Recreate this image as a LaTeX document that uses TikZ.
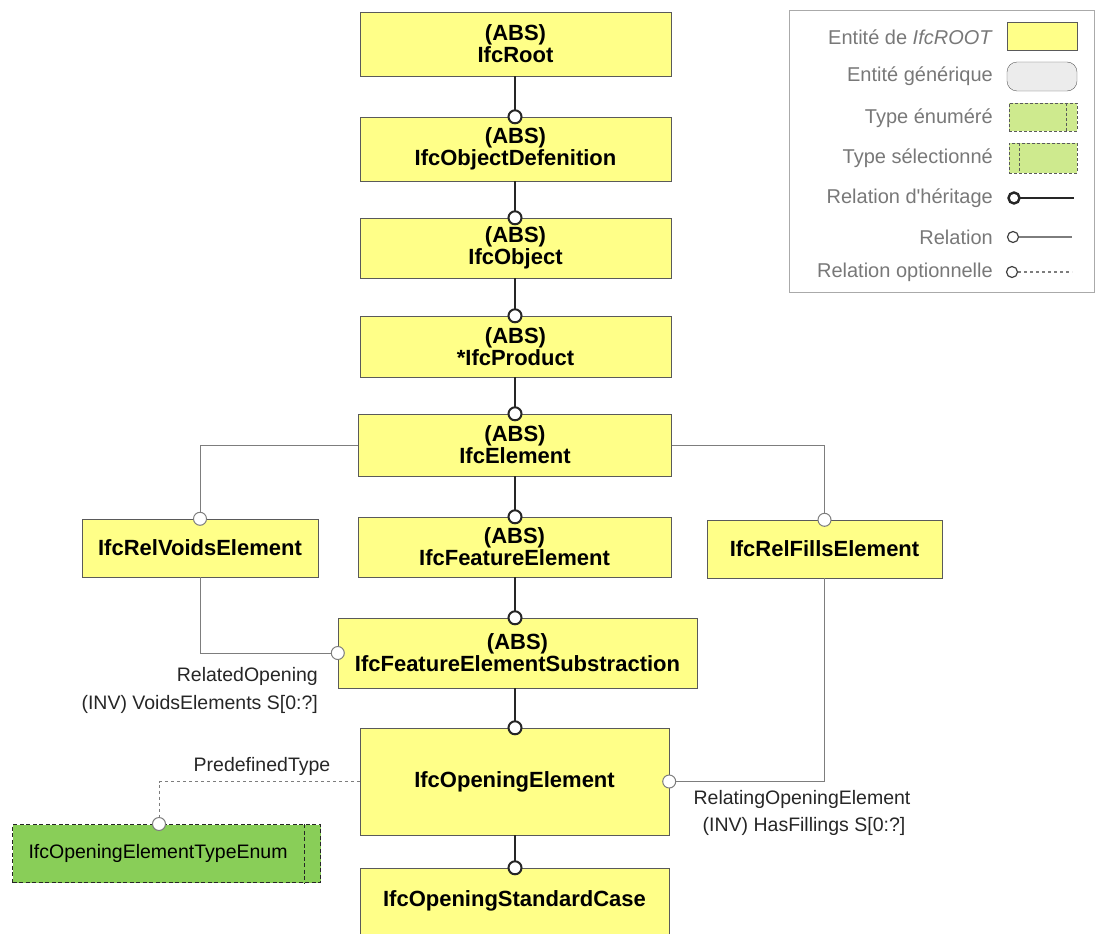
\documentclass[tikz,border=0pt]{standalone}
\usepackage{fontspec}
\setmainfont{Liberation Sans}
\usetikzlibrary{positioning,calc}
\definecolor{ifcyellow}{RGB}{255,255,136}
\definecolor{ifcgreen}{RGB}{137,206,88}
\definecolor{ifclightgreen}{RGB}{206,234,142}
\definecolor{ifcgeneric}{RGB}{236,236,236}
\definecolor{ifcborder}{RGB}{90,90,90}
\definecolor{ifcrel}{RGB}{125,125,125}
\definecolor{ifctext}{RGB}{120,120,120}
\definecolor{ifcframe}{RGB}{170,170,170}
\tikzset{
  entity/.style={draw=ifcborder, fill=ifcyellow, align=center, inner sep=0pt,
    font=\fontsize{22}{22}\selectfont\bfseries},
  enumbox/.style={draw=black!85, dash pattern=on 4pt off 2.5pt, line width=1pt, fill=ifcgreen, inner sep=0pt,
    font=\fontsize{19.5}{22}\selectfont},
  inh/.style={line width=2pt, black!85},
  inhcirc/.style={line width=2pt, draw=black!85, fill=white},
  rel/.style={line width=1pt, ifcrel},
  relcirc/.style={line width=1pt, draw=ifcrel, fill=white},
  optrel/.style={line width=1pt, ifcrel, dashed},
  rellabel/.style={font=\fontsize{19.5}{22}\selectfont, text=black!85, inner sep=0pt},
  legtext/.style={font=\fontsize{20}{22}\selectfont, text=ifctext, anchor=east, inner sep=0pt}
}
\begin{document}
\begin{tikzpicture}[x=1pt,y=-1pt]
  \useasboundingbox (0,0) rectangle (1095,934);
  % Inheritance chain
  \node[entity, minimum width=311, minimum height=64] (root) at (515.5,44) {(ABS)\\IfcRoot};
  \node[entity, minimum width=311, minimum height=64] (objdef) at (515.5,149) {(ABS)\\IfcObjectDefenition};
  \node[entity, minimum width=311, minimum height=60] (object) at (515.5,248) {(ABS)\\IfcObject};
  \node[entity, minimum width=311, minimum height=61] (product) at (515.5,346.5) {(ABS)\\*IfcProduct};
  \node[entity, minimum width=313, minimum height=62] (element) at (515,445) {(ABS)\\IfcElement};
  \node[entity, minimum width=313, minimum height=60] (featel) at (514.5,547) {(ABS)\\IfcFeatureElement};
  \node[entity, minimum width=359, minimum height=70] (featsub) at (517.5,653) {(ABS)\\IfcFeatureElementSubstraction};
  \node[entity, minimum width=309, minimum height=107] (opening) at (514.5,781.5) {IfcOpeningElement};
  \node[entity, minimum width=309, minimum height=66] (stdcase) at (514.5,901) {IfcOpeningStandardCase};
  % Relationship objects
  \node[entity, minimum width=236, minimum height=58] (relvoids) at (200,548) {IfcRelVoidsElement};
  \node[entity, minimum width=235, minimum height=58] (relfills) at (824.5,549) {IfcRelFillsElement};
  % Enumeration
  \node[enumbox, minimum width=308, minimum height=58, text width=276, align=left] (enum) at (166.5,853.5) {IfcOpeningElementTypeEnum};
  \draw[black!85, line width=1pt, dash pattern=on 4pt off 2.5pt] ([xshift=-17pt]enum.north east) -- ([xshift=-17pt]enum.south east);

  % Inheritance links
  \foreach \parent/\child in {root/objdef, objdef/object, object/product, product/element,
      element/featel, featel/featsub, featsub/opening, opening/stdcase} {
    \draw[inh] (\parent.south -| 515,0) -- (\child.north -| 515,0);
    \draw[inhcirc] (\child.north -| 515,0) circle (6.5);
  }

  % Relations
  \draw[rel] (element.west) -| (relvoids.north);
  \draw[relcirc] (relvoids.north) circle (6.5);
  \draw[rel] (element.east) -| (relfills.north);
  \draw[relcirc] (relfills.north) circle (6.5);
  \draw[rel] (relvoids.south) |- (featsub.west);
  \draw[relcirc] (featsub.west) circle (6.5);
  \draw[rel] (relfills.south) |- (opening.east);
  \draw[relcirc] (opening.east) circle (6.5);
  \coordinate (enumtop) at ([xshift=-7.5pt]enum.north);
  \draw[optrel] (opening.west) -| (enumtop);
  \draw[relcirc] (enumtop) circle (6.5);

  % Relation labels
  \node[rellabel, anchor=east] (lblrelated) at (318,676) {RelatedOpening};
  \node[rellabel, anchor=east] (lblvoids) at (318,704) {(INV) VoidsElements S[0:?]};
  \node[rellabel] (lblrelating) at (802,799) {RelatingOpeningElement};
  \node[rellabel] (lblfillings) at (804,826) {(INV) HasFillings S[0:?]};
  \node[rellabel] (lblpredef) at (262,766) {PredefinedType};

  % Legend
  \node[draw=ifcframe, line width=0.8pt, minimum width=305, minimum height=282, inner sep=0pt] (legend) at (941.5,151) {};
  \node[legtext] (troot) at (993,37) {Entité de \textit{IfcROOT}};
  \node[legtext] (tgen) at (993,76) {Entité générique};
  \node[legtext] (tenum) at (993,118) {Type énuméré};
  \node[legtext] (tsel) at (993,158) {Type sélectionné};
  \node[legtext] (tinh) at (993,198) {Relation d\textquotesingle héritage};
  \node[legtext] (trel) at (993,237) {Relation};
  \node[legtext] (topt) at (993,272) {Relation optionnelle};
  \node[draw=ifcborder, fill=ifcyellow, minimum width=70, minimum height=28, inner sep=0pt] (sroot) at (1042,36) {};
  \node[draw=ifcborder, fill=ifcgeneric, rounded corners=10pt, minimum width=70, minimum height=29, inner sep=0pt] (sgen) at (1042,76.5) {};
  \node[draw=ifcborder, dash pattern=on 3pt off 2pt, fill=ifclightgreen, minimum width=68, minimum height=28, inner sep=0pt] (senum) at (1043,117) {};
  \draw[ifcborder, dash pattern=on 3pt off 2pt] ([xshift=-11pt]senum.north east) -- ([xshift=-11pt]senum.south east);
  \node[draw=ifcborder, dash pattern=on 3pt off 2pt, fill=ifclightgreen, minimum width=68, minimum height=30, inner sep=0pt] (ssel) at (1043,158) {};
  \draw[ifcborder, dash pattern=on 3pt off 2pt] ([xshift=10pt]ssel.north west) -- ([xshift=10pt]ssel.south west);
  \coordinate (inhA) at (1014,198);
  \coordinate (inhB) at (1074,198);
  \draw[inh, line width=2.4pt] (inhA) -- (inhB);
  \draw[inhcirc, line width=2.4pt] (inhA) circle (5.5);
  \coordinate (relA) at (1013,237);
  \coordinate (relB) at (1072,237);
  \draw[rel, line width=1.4pt] (relA) -- (relB);
  \draw[relcirc, line width=1.2pt, draw=black!75] (relA) circle (5.5);
  \coordinate (optA) at (1012,272);
  \coordinate (optB) at (1072,272);
  \draw[optrel, line width=1.2pt, dash pattern=on 3pt off 3pt] (optA) -- (optB);
  \draw[relcirc, line width=1.2pt, draw=black!75] (optA) circle (5.5);
\end{tikzpicture}
\end{document}
